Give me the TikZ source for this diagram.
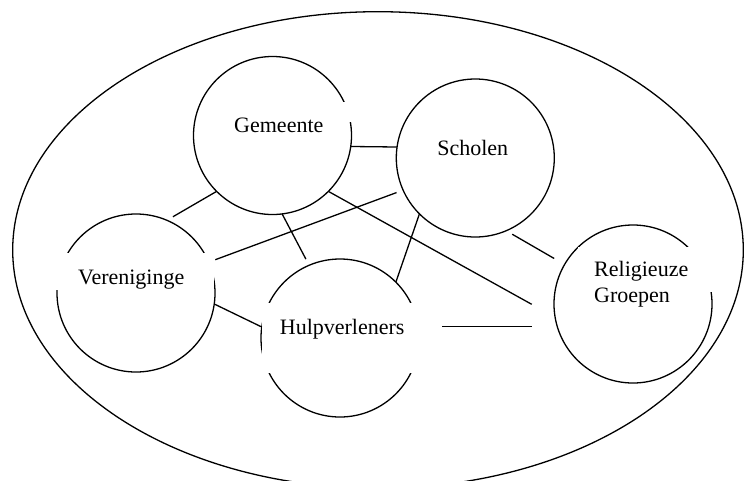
\documentclass[tikz,border=0pt]{standalone}
\usepackage{fontspec}
\setmainfont{Liberation Serif}
\usetikzlibrary{positioning}

\begin{document}
\begin{tikzpicture}[
  x=1pt,y=-1pt,
  font=\fontsize{22}{26}\selectfont,
  ring/.style={line width=1.3pt},
  group/.style={draw,circle,line width=1.3pt,minimum size=158pt,
                inner sep=0pt,outer sep=0pt},
  gap/.style={fill=white,inner sep=0pt,outer sep=0pt},
  lbl/.style={inner sep=0pt,anchor=base},
  link/.style={line width=1.3pt}
]
\useasboundingbox (0,0) rectangle (745,480);
\draw[ring] (378,250) ellipse [x radius=365.3pt,y radius=238.3pt];

\node[group] (gemeente) at (272.5,135.5) {};
\node[group] (scholen) at (475.3,158) {};
\node[group] (vereniging) at (136,293) {};
\node[group] (hulp) at (340,338) {};
\node[group] (religie) at (633,304) {};

\node[gap,minimum width=128pt,minimum height=20pt] (gemeentegap) at (292,112) {};
\node[gap,minimum width=166pt,minimum height=37pt] (vereniginggap) at (131,271.5) {};
\node[gap,minimum width=180pt,minimum height=70pt] (hulpgap) at (352,338) {};
\node[gap,minimum width=138pt,minimum height=45pt] (religiegap) at (647,269.5) {};

\coordinate (religieA) at (531.7,304.3);
\coordinate (religieB) at (531.7,326.7);

\node[lbl] (gemeentelbl) at (278.8,132.3) {Gemeente};
\node[lbl] (scholenlbl) at (472.8,155.7) {Scholen};
\node[lbl] (vereniginglbl) at (131.2,284.3) {Vereniginge};
\node[lbl] (hulplbl) at (342.2,334.3) {Hulpverleners};
\node[lbl,anchor=base west,align=left] (religielbl) at (594,302.7)
  {Religieuze\\Groepen};

\draw[link] (gemeente.-8) -- (scholen.172);
\draw[link,shorten >=7pt] (gemeente.-135) -- (vereniging.67);
\draw[link,shorten <=7pt,shorten >=7pt] (vereniging.23) -- (scholen.204);
\draw[link,shorten >=7pt] (gemeente.-83) -- (hulp.113);
\draw[link] (gemeente.-45) -- (religieA);
\draw[link] (scholen.-135) -- (hulp.45);
\draw[link,shorten <=7pt,shorten >=12pt] (scholen.-67) -- (religie.150);
\draw[link] (vereniging.-8) -- (hulp.172);
\draw[link] (hulpgap.east |- religieB) -- (religieB);
\end{tikzpicture}
\end{document}
